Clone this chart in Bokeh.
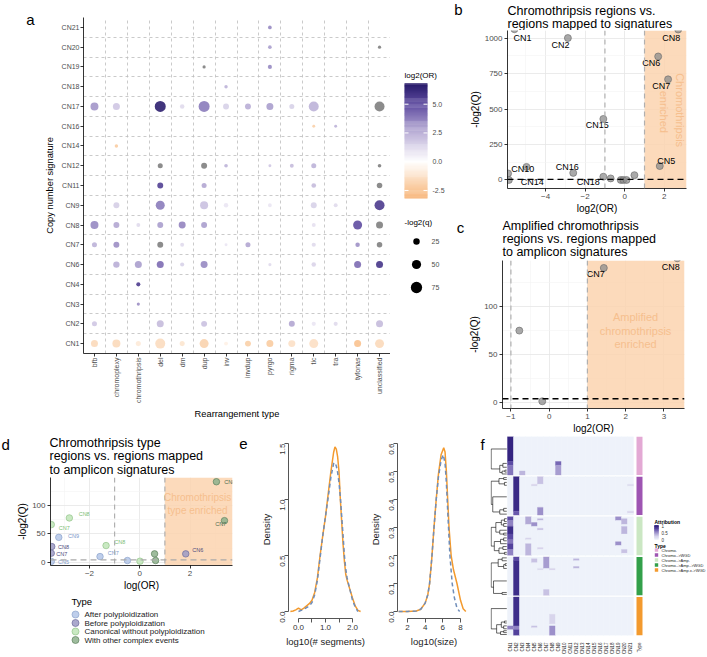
import numpy as np
from math import pi, log2, sqrt
from bokeh.plotting import figure
from bokeh.models import (Range1d, FixedTicker, Label, Span, BoxAnnotation,
                          LinearColorMapper, ColumnDataSource, NumeralTickFormatter)
from bokeh.layouts import row, column
from bokeh.core.properties import value
from bokeh.embed import file_html
from bokeh.resources import INLINE

FONT = "Liberation Sans"
NA = float("nan")

# ---------------- panel a : dot plot ----------------
rearr_types = ["bfb", "chromoplexy", "chromothripsis", "del", "dm", "dup", "inv", "invdup",
               "pyrgo", "rigma", "tic", "tra", "tyfonas", "unclassified"]
cn_sigs = ["CN1", "CN2", "CN3", "CN4", "CN6", "CN7", "CN8", "CN9", "CN11", "CN12", "CN14",
           "CN16", "CN17", "CN18", "CN19", "CN20", "CN21"]
a_sig = ["CN21", "CN20", "CN20", "CN19", "CN19", "CN18",
         "CN17", "CN17", "CN17", "CN17", "CN17", "CN17", "CN17", "CN17", "CN17", "CN17", "CN17",
         "CN16", "CN16", "CN14",
         "CN12", "CN12", "CN12", "CN12", "CN12", "CN12", "CN12",
         "CN11", "CN11", "CN11", "CN11",
         "CN9", "CN9", "CN9", "CN9", "CN9", "CN9", "CN9", "CN9",
         "CN8", "CN8", "CN8", "CN8", "CN8", "CN8", "CN8", "CN8", "CN8",
         "CN7", "CN7", "CN7", "CN7", "CN7", "CN7", "CN7", "CN7", "CN7",
         "CN6", "CN6", "CN6", "CN6", "CN6", "CN6", "CN6", "CN6", "CN6",
         "CN4", "CN3",
         "CN2", "CN2", "CN2", "CN2", "CN2", "CN2", "CN2",
         "CN1", "CN1", "CN1", "CN1", "CN1", "CN1", "CN1", "CN1", "CN1", "CN1", "CN1", "CN1", "CN1"]
a_type = ["pyrgo", "pyrgo", "unclassified", "dup", "pyrgo", "inv",
          "bfb", "chromoplexy", "del", "dm", "dup", "inv", "invdup", "pyrgo", "rigma", "tic", "unclassified",
          "tic", "tra", "chromoplexy",
          "del", "dup", "inv", "pyrgo", "rigma", "tic", "unclassified",
          "del", "dup", "tic", "unclassified",
          "chromoplexy", "del", "dup", "inv", "pyrgo", "tic", "tra", "unclassified",
          "bfb", "chromoplexy", "chromothripsis", "del", "dm", "dup", "tic", "tyfonas", "unclassified",
          "bfb", "chromoplexy", "del", "dm", "inv", "invdup", "tic", "tyfonas", "unclassified",
          "chromoplexy", "chromothripsis", "del", "dm", "dup", "pyrgo", "tic", "tyfonas", "unclassified",
          "chromothripsis", "chromothripsis",
          "bfb", "del", "dup", "rigma", "tic", "tra", "unclassified",
          "bfb", "chromoplexy", "chromothripsis", "del", "dm", "dup", "inv", "invdup", "pyrgo", "rigma",
          "tic", "tyfonas", "unclassified"]
a_log2or = [3.5, 3.0, NA, NA, 3.5, 2.5,
            3.2, 1.8, 6.6, 1.2, 3.8, 1.5, 2.6, 3.0, 1.5, 2.5, NA,
            -2.0, 2.5, -2.2,
            NA, NA, 2.5, 1.8, 2.2, 2.5, NA,
            5.4, 2.8, 2.2, NA,
            1.6, 3.8, 2.0, 0.8, 0.8, 1.5, 1.2, 5.6,
            3.5, 2.8, 1.2, 3.0, 3.6, 3.0, 1.0, 5.0, NA,
            2.5, 3.4, NA, 1.2, 0.8, 2.8, 1.2, 3.3, NA,
            2.6, 3.0, 4.2, 1.5, 3.5, 1.2, 1.4, 4.2, 5.8,
            5.6, 3.4,
            1.8, 2.2, 2.0, 2.8, 0.8, 1.2, 2.2,
            -1.6, -1.6, -0.9, -1.5, -1.1, -1.9, -0.6, -2.0, -2.2, -1.3, -1.4, -2.6, -1.6]
a_neglog2q = [8, 8, 6, 6, 10, 7,
              38, 29, 72, 12, 72, 21, 21, 29, 15, 59, 59,
              5, 5, 7,
              15, 21, 8, 5, 9, 15, 8,
              21, 15, 13, 18,
              21, 48, 38, 12, 9, 21, 9, 59,
              38, 21, 9, 21, 29, 21, 9, 48, 29,
              15, 21, 21, 9, 5, 15, 10, 12, 18,
              24, 29, 29, 10, 29, 6, 12, 29, 29,
              10, 6,
              15, 29, 21, 21, 10, 10, 29,
              29, 38, 15, 59, 15, 48, 9, 21, 29, 29, 48, 29, 48]
a_or_ticks = [-2.5, 0.0, 2.5, 5.0]
size_breaks = [25, 50, 75]

# ---------------- panel b ----------------
b_log2or = [-5.57, -2.87, 2.70, 1.69, 2.19, -1.08, 1.77, -4.96, -2.60, -5.85, -1.08, -0.71,
            -0.20, -0.07, 0.09, 0.49, -5.89]
b_neglog2q = [1062, 1000, 1060, 870, 709, 430, 98, 92, 50, 0, 23, 11, 0, 0, 0, 34, 46]
b_lab = ["CN1", "CN2", "CN8", "CN6", "CN7", "CN15", "CN5", "CN10", "CN16", "CN14", "CN18"]
b_lab_x = [-5.16, -3.24, 2.35, 1.34, 1.85, -1.39, 2.10, -5.15, -2.90, -4.67, -1.84]
b_lab_y = [1002, 950, 1002, 824, 664, 384, 137, 80, 92, -16, -16]

# ---------------- panel c ----------------
c_log2or = [1.43, 3.35, -0.78, -0.18]
c_neglog2q = [140, 150, 75, 1.7]
c_lab = ["CN7", "CN8"]
c_lab_x = [1.22, 3.18]
c_lab_y = [134, 141]

OR_CUT = 1.0
Q_CUT = -log2(0.05)

# ---------------- panel d ----------------
d_types = ["After polyploidization", "Before polyploidization",
           "Canonical without polyploidization", "With other complex events"]
d_type = ["With other complex events"] * 4 + ["Before polyploidization"] * 3 + \
         ["Canonical without polyploidization"] * 4 + ["After polyploidization"] * 4
d_logor = [3.05, 3.37, 0.59, 0.63, 1.83, -3.50, -3.52, -2.80, -3.52, -1.34, 0.01, -3.22, -1.58, -3.52, -0.49]
d_neglog2q = [142.5, 73.6, 14.8, 3.0, 14.8, 27.7, 16.0, 78.4, 66.6, 29.5, 1.8, 44.0, 10.0, 1.5, 3.0]
d_lab = ["CN8", "CN7", "", "", "CN6", "CN8", "CN7", "CN8", "CN7", "CN8", "", "CN9", "CN7", "CN5", ""]
d_lab_x = [3.36, 3.00, 0, 0, 2.09, -3.25, -3.32, -2.43, -3.22, -1.01, 0, -2.85, -1.27, -3.25, 0]
d_lab_y = [142.6, 68.0, 0, 0, 22.0, 26.5, 14.8, 85.5, 60.8, 36.6, 0, 47.2, 16.6, 0.0, 0]

# ---------------- panel e : densities ----------------
e1_x_orange = [-0.3, -0.2, -0.1, 0.0, 0.1, 0.2, 0.3, 0.4, 0.5, 0.6, 0.7, 0.8, 0.9, 1.0, 1.1, 1.2, 1.3,
               1.35, 1.4, 1.45, 1.5, 1.55, 1.6, 1.65, 1.7, 1.75, 1.8, 1.9, 2.0, 2.1, 2.2, 2.3]
e1_y_orange = [0.0, 0.005, 0.015, 0.03, 0.015, 0.03, 0.05, 0.07, 0.1, 0.17, 0.3, 0.5, 0.68, 0.85, 1.05,
               1.25, 1.42, 1.47, 1.45, 1.38, 1.25, 1.0, 0.8, 0.6, 0.45, 0.33, 0.28, 0.2, 0.12, 0.05, 0.01, 0.0]
e1_x_blue = [0.0, 0.1, 0.2, 0.3, 0.4, 0.5, 0.6, 0.7, 0.8, 0.9, 1.0, 1.1, 1.2, 1.3,
             1.35, 1.4, 1.45, 1.5, 1.55, 1.6, 1.65, 1.7, 1.75, 1.8, 1.9, 2.0, 2.1, 2.2]
e1_y_blue = [0.0, 0.01, 0.02, 0.035, 0.05, 0.08, 0.15, 0.28, 0.48, 0.68, 0.85, 1.02, 1.2, 1.32,
             1.33, 1.3, 1.24, 1.15, 1.02, 0.85, 0.68, 0.5, 0.38, 0.3, 0.2, 0.1, 0.04, 0.0]
e2_x_orange = [1.0, 2.0, 3.0, 3.5, 4.0, 4.3, 4.5, 4.75, 5.0, 5.25, 5.5, 5.8, 6.1, 6.25, 6.4, 6.55,
               6.7, 6.94, 7.2, 7.6, 8.0, 8.3, 8.6]
e2_y_orange = [0.0, 0.0, 0.002, 0.008, 0.03, 0.06, 0.1, 0.19, 0.3, 0.4, 0.49, 0.56, 0.585, 0.57, 0.5,
               0.4, 0.3, 0.2, 0.15, 0.1, 0.04, 0.01, 0.0]
e2_x_blue = [1.0, 2.0, 3.0, 3.5, 4.0, 4.3, 4.5, 4.75, 5.0, 5.25, 5.5, 5.8, 6.05, 6.25, 6.4, 6.55,
             6.8, 7.06, 7.3, 7.6, 7.9]
e2_y_blue = [0.0, 0.0, 0.002, 0.008, 0.03, 0.06, 0.1, 0.19, 0.3, 0.4, 0.48, 0.54, 0.56, 0.53, 0.46,
             0.36, 0.2, 0.1, 0.05, 0.012, 0.0]

# ---------------- panel f : heatmap ----------------
hm_cols = ["CN%d" % i for i in range(1, 22)]
hm_groups = ["Chromo.", "Chromo.->WGD", "Chromo.->Amp.", "Chromo.->Amp.->WGD", "Chromo.->Amp.\u00b1->WGD"]
hm_group_colors = ["#E3A9D4", "#9E55B2", "#CBE7C3", "#33A04A", "#F39A2E"]
hm_ticks = [0, 0.5, 1]
ROWS = 20
blk_group = [0, 0, 0, 0, 0, 0,
             1, 1, 1, 1, 1, 1, 1,
             2, 2, 2, 2, 2, 2, 2, 2, 2, 2, 2, 2, 2, 2, 2, 2, 2, 2, 2, 2,
             3, 3, 3, 3, 3, 3, 3, 3, 3,
             4, 4, 4, 4, 4, 4, 4]
blk_r0 = [0, 13, 15, 13, 15, 18,
          0, 18, 0, 16, 4, 4, 18,
          0, 2, 5, 9, 12, 14, 17, 0, 11, 14, 3, 1, 6, 16, 0, 13, 1, 5, 7, 17,
          0, 2, 1, 6, 0, 17, 6, 1, 5,
          0, 15, 17, 15, 15, 9, 15]
blk_r1 = [13, 15, 20, 15, 20, 20,
          18, 20, 4, 20, 5, 5, 19,
          2, 5, 9, 12, 14, 17, 20, 4, 12, 20, 5, 2, 7, 17, 2, 15, 4, 7, 9, 19,
          2, 20, 3, 7, 6, 20, 7, 2, 6,
          15, 17, 20, 17, 16, 14, 20]
blk_col = ["CN1", "CN1", "CN1", "CN9", "CN9", "CN3",
           "CN2", "CN2", "CN6", "CN6", "CN5", "CN21", "CN21",
           "CN1", "CN1", "CN1", "CN1", "CN1", "CN1", "CN1", "CN4", "CN4", "CN4", "CN5", "CN6", "CN6", "CN6",
           "CN19", "CN19", "CN20", "CN20", "CN20", "CN20",
           "CN2", "CN2", "CN5", "CN6", "CN7", "CN7", "CN8", "CN12", "CN12",
           "CN2", "CN2", "CN2", "CN1", "CN5", "CN8", "CN8"]
blk_val = [0.95, 0.75, 0.6, 0.65, 0.45, 0.35,
           0.92, 0.7, 0.3, 0.5, 0.2, 0.15, 0.2,
           0.75, 0.55, 0.9, 0.75, 0.6, 0.8, 0.55, 0.4, 0.2, 0.35, 0.5, 0.35, 0.3, 0.2,
           0.5, 0.5, 0.35, 0.35, 0.35, 0.3,
           0.75, 0.9, 0.3, 0.15, 0.45, 0.3, 0.2, 0.35, 0.35,
           0.9, 0.55, 0.8, 0.55, 0.3, 0.2, 0.5]
# dendrograms: [merge height, left, right]; an int is a cluster of that many rows
hm_trees = [
    [1.0, 13, [0.45, [0.25, 2, 2], [0.3, [0.12, 1, 1], 1]]],
    [1.0, [0.5, [0.2, 1, 1], [0.15, 2, 1]], [0.9, 11, [0.45, [0.2, 1, 2], 1]]],
    [1.0, [0.7, [0.35, [0.15, 2, 1], [0.2, 1, 2]], [0.45, 2, [0.2, 1, 1]]],
     [0.8, [0.4, [0.2, 2, 1], 2], [0.5, [0.25, 1, 2], [0.15, 1, 1]]]],
    [1.0, [0.55, [0.3, 1, 2], [0.2, [0.1, 1, 1], 2]], [0.85, 11, [0.3, 1, 1]]],
    [1.0, 12, [0.65, [0.35, [0.15, 1, 1], [0.2, 2, 1]], [0.4, [0.2, 1, 1], 1]]],
]


# ======================= helpers =======================
def ramp(stops, n=256):
    pos = np.array([s[0] for s in stops], float)
    rgb = np.array([[int(h[i:i + 2], 16) for i in (1, 3, 5)] for _, h in stops], float)
    t = np.linspace(pos[0], pos[-1], n)
    cols = []
    for ti in t:
        r, g, b = (np.interp(ti, pos, rgb[:, k]) for k in range(3))
        cols.append("#%02x%02x%02x" % (int(round(r)), int(round(g)), int(round(b))))
    return cols


def new_fig(**kw):
    try:
        return figure(frame_align=False, **kw)
    except Exception:
        return figure(**kw)


def make_fig(w, h, l, r, t, b, xr, yr, **kw):
    p = new_fig(width=w, height=h, x_range=xr, y_range=yr, title=None,
                output_backend="svg", toolbar_location=None,
                min_border_left=l, min_border_right=r, min_border_top=t, min_border_bottom=b, **kw)
    p.outline_line_color = None
    p.background_fill_color = "white"
    p.border_fill_color = "white"
    return p


def blank_fig(w, h):
    p = new_fig(width=w, height=h, x_range=Range1d(0, w), y_range=Range1d(h, 0), title=None,
                output_backend="svg", toolbar_location=None, x_axis_location=None,
                y_axis_location=None, min_border=0, min_border_left=0, min_border_right=0,
                min_border_top=0, min_border_bottom=0)
    p.outline_line_color = None
    p.grid.visible = False
    p.background_fill_color = "white"
    p.border_fill_color = "white"
    return p


def ptext(p, x, y, text, size, color="black", align="left", baseline="middle", style="normal"):
    p.text(x=[x], y=[y], text=[text], text_font=value(FONT), text_font_size=value("%spx" % size),
           text_color=color, text_align=align, text_baseline=baseline, text_font_style=style)


def gg_axes(p, tick="8px", lab="10px"):
    for ax in p.axis:
        ax.axis_line_color = "black"
        ax.axis_line_width = 0.8
        ax.major_tick_line_color = "black"
        ax.major_tick_line_width = 0.8
        ax.major_tick_out = 3
        ax.major_tick_in = 0
        ax.minor_tick_line_color = None
        ax.major_label_text_font = FONT
        ax.major_label_text_font_size = tick
        ax.major_label_text_color = "#4D4D4D"
        ax.major_label_standoff = 1
        ax.axis_label_text_font = FONT
        ax.axis_label_text_font_size = lab
        ax.axis_label_text_font_style = "normal"
        ax.axis_label_text_color = "black"
        ax.axis_label_standoff = 1


def set_ticks(p, xt, xm, yt, ym):
    tx = FixedTicker(ticks=xt, minor_ticks=xm)
    ty = FixedTicker(ticks=yt, minor_ticks=ym)
    p.xaxis.ticker = tx
    p.xgrid.ticker = tx
    p.yaxis.ticker = ty
    p.ygrid.ticker = ty
    p.grid.grid_line_color = "#E6E6E6"
    p.grid.grid_line_width = 0.8
    p.grid.minor_grid_line_color = "#F3F3F3"
    p.grid.minor_grid_line_width = 0.6


def thresholds(p, hcolor):
    p.add_layout(BoxAnnotation(left=OR_CUT, fill_color=SHADE, fill_alpha=0.85, line_color=None,
                               level="underlay"))
    for xv in (-OR_CUT, OR_CUT):
        p.add_layout(Span(location=xv, dimension="height", line_color="#B0B0B0", line_dash="5 4",
                          line_width=1.2))
    p.add_layout(Span(location=Q_CUT, dimension="width", line_color=hcolor, line_dash="6 4",
                      line_width=1.4 if hcolor == "black" else 1.2))


def dot_size(q):
    return 1.3 * sqrt(q)


def gradient_bar(p, mapper, lo, hi, x0, x1, ytop, ybot, n=120):
    vals = np.linspace(lo, hi, n + 1)
    ys = ybot - (vals - lo) / (hi - lo) * (ybot - ytop)
    src = ColumnDataSource(dict(l=[x0] * n, r=[x1] * n, t=list(ys[1:] - 0.3), b=list(ys[:-1]),
                                v=list((vals[1:] + vals[:-1]) / 2)))
    p.quad(left="l", right="r", top="t", bottom="b", source=src,
           fill_color={"field": "v", "transform": mapper}, line_color=None)
    return lambda v: ybot - (v - lo) / (hi - lo) * (ybot - ytop)


SHADE = "#FCD3AF"
ENR_TEXT = "#F6BF8E"
TITLE_PX = 12.5

# ======================= panel a =======================
A_LO, A_HI = -3.2, 6.8
a_mapper = LinearColorMapper(
    palette=ramp([(-3.2, "#F6B172"), (-2.5, "#F9C595"), (0.0, "#FFFFFF"), (2.5, "#BDB2D8"),
                  (5.0, "#5F4CA1"), (6.8, "#271A69")]),
    low=A_LO, high=A_HI, nan_color="#7F7F7F")

pa_strip = blank_fig(38, 436)
ptext(pa_strip, 30, 19, "a", 15, align="center")

pa = make_fig(352, 436, 45, 0, 17, 83, Range1d(-0.5, len(rearr_types) - 0.5),
              Range1d(-0.5, len(cn_sigs) - 0.5))
a_src = ColumnDataSource(dict(
    xi=[rearr_types.index(t) for t in a_type],
    yi=[cn_sigs.index(s) for s in a_sig],
    lor=np.array(a_log2or, dtype=float),
    sz=[dot_size(q) for q in a_neglog2q]))
pa.scatter("xi", "yi", size="sz", source=a_src, fill_color={"field": "lor", "transform": a_mapper},
           fill_alpha=0.9, line_color=None)
pa.xgrid.ticker = FixedTicker(ticks=[i - 0.5 for i in range(len(rearr_types) + 1)])
pa.ygrid.ticker = FixedTicker(ticks=[i - 0.5 for i in range(len(cn_sigs) + 1)])
pa.grid.grid_line_color = "#BDBDBD"
pa.grid.grid_line_dash = "3 3"
pa.grid.grid_line_width = 0.8
gg_axes(pa, tick="7px", lab="9.3px")
pa.xaxis.ticker = FixedTicker(ticks=list(range(len(rearr_types))))
pa.xaxis.major_label_overrides = {i: t for i, t in enumerate(rearr_types)}
pa.xaxis.major_label_orientation = pi / 2
pa.yaxis.ticker = FixedTicker(ticks=list(range(len(cn_sigs))))
pa.yaxis.major_label_overrides = {i: s for i, s in enumerate(cn_sigs)}
pa.xaxis.axis_label = "Rearrangement type"
pa.yaxis.axis_label = "Copy number signature"
pa.xaxis.axis_label_standoff = 3
pa.yaxis.axis_label_standoff = 4

# legend column for panel a
pa_leg = blank_fig(55, 436)
ptext(pa_leg, 14, 75, "log2(OR)", 8)
ypos = gradient_bar(pa_leg, a_mapper, A_LO, A_HI, 14, 37, 83, 198)
tick_y = [ypos(v) for v in a_or_ticks]
pa_leg.segment(x0=[14] * 4, y0=tick_y, x1=[18] * 4, y1=tick_y, line_color="white", line_width=1)
pa_leg.segment(x0=[33] * 4, y0=tick_y, x1=[37] * 4, y1=tick_y, line_color="white", line_width=1)
pa_leg.text(x=[42] * 4, y=tick_y, text=["%.1f" % v for v in a_or_ticks], text_font=value(FONT),
            text_font_size=value("7px"), text_color="#4D4D4D", text_align="left",
            text_baseline="middle")
ptext(pa_leg, 14, 222, "-log2(q)", 8)
sl_y = [241 + 23 * k for k in range(len(size_breaks))]
pa_leg.scatter(x=[26] * len(size_breaks), y=sl_y, size=[dot_size(q) for q in size_breaks],
               fill_color="black", line_color=None)
pa_leg.text(x=[41] * len(size_breaks), y=sl_y, text=[str(q) for q in size_breaks],
            text_font=value(FONT), text_font_size=value("7px"), text_color="#4D4D4D",
            text_align="left", text_baseline="middle")

# ======================= panel b =======================
pb_head = blank_fig(262, 30)
ptext(pb_head, 13, 9, "b", 15, align="center")
ptext(pb_head, 62, 10.5, "Chromothripsis regions vs.", TITLE_PX)
ptext(pb_head, 62, 23.5, "regions mapped to signatures", TITLE_PX)

pb = make_fig(262, 186, 62, 21, 0, 26, Range1d(-5.92, 3.12), Range1d(-60, 1053))
set_ticks(pb, [-4, -2, 0, 2], [-5, -3, -1, 1, 3], [0, 250, 500, 750, 1000], [125, 375, 625, 875])
thresholds(pb, "black")
pb.scatter(b_log2or, b_neglog2q, size=7, fill_color="#8C8C8C", fill_alpha=0.75,
           line_color="#666666", line_width=0.6)
pb.text(b_lab_x, b_lab_y, text=b_lab, text_font=value(FONT), text_font_size=value("9px"),
        text_align="center", text_baseline="middle", text_color="black")
pb.add_layout(Label(x=2.77, y=492, text="Chromothripsis", angle=-pi / 2, text_align="center",
                    text_baseline="middle", text_font=FONT, text_font_size="11px",
                    text_color=ENR_TEXT))
pb.add_layout(Label(x=1.96, y=480, text="enriched", angle=-pi / 2, text_align="center",
                    text_baseline="middle", text_font=FONT, text_font_size="11px",
                    text_color=ENR_TEXT))
gg_axes(pb)
pb.xaxis.axis_label = "log2(OR)"
pb.yaxis.axis_label = "-log2(Q)"

# ======================= panel c =======================
pc_head = blank_fig(262, 44)
ptext(pc_head, 15, 11, "c", 15, align="center")
ptext(pc_head, 57, 9, "Amplified chromothripsis", TITLE_PX)
ptext(pc_head, 57, 22, "regions vs. regions mapped", TITLE_PX)
ptext(pc_head, 57, 35.5, "to amplicon signatures", TITLE_PX)

pc = make_fig(262, 176, 57, 23, 0, 28, Range1d(-1.22, 3.54), Range1d(-5.8, 147.7))
set_ticks(pc, [-1, 0, 1, 2, 3], [-0.5, 0.5, 1.5, 2.5, 3.5], [0, 50, 100], [25, 75, 125])
thresholds(pc, "black")
pc.scatter(c_log2or, c_neglog2q, size=7, fill_color="#8C8C8C", fill_alpha=0.75,
           line_color="#666666", line_width=0.6)
pc.text(c_lab_x, c_lab_y, text=c_lab, text_font=value(FONT), text_font_size=value("9px"),
        text_align="center", text_baseline="middle", text_color="black")
pc.add_layout(Label(x=2.26, y=75, text="Amplified\nchromothripsis\nenriched", text_align="center",
                    text_baseline="middle", text_font=FONT, text_font_size="11px",
                    text_color=ENR_TEXT, text_line_height=1.15))
gg_axes(pc)
pc.xaxis.axis_label = "log2(OR)"
pc.yaxis.axis_label = "-log2(Q)"

# ======================= panel d =======================
pd_head = blank_fig(236, 41)
ptext(pd_head, 1, 8, "d", 15)
ptext(pd_head, 49, 6.5, "Chromothripsis type", TITLE_PX)
ptext(pd_head, 49, 19.5, "regions vs. regions mapped", TITLE_PX)
ptext(pd_head, 49, 33, "to amplicon signatures", TITLE_PX)

pd_ = make_fig(236, 118, 50, 4, 0, 30, Range1d(-3.55, 3.69), Range1d(-5.8, 150))
set_ticks(pd_, [-2, 0, 2], [-3, -1, 1, 3], [0, 50, 100], [25, 75, 125])
thresholds(pd_, "#AAAAAA")
d_fill = {"After polyploidization": "#B3C6E8", "Before polyploidization": "#9C9AC4",
          "Canonical without polyploidization": "#BFE5B7", "With other complex events": "#8DB08C"}
d_line = {"After polyploidization": "#8DA3CC", "Before polyploidization": "#6F6D9C",
          "Canonical without polyploidization": "#93C48B", "With other complex events": "#5F825F"}
d_text = {"After polyploidization": "#7C97C9", "Before polyploidization": "#4F4C7C",
          "Canonical without polyploidization": "#7DBE76", "With other complex events": "#4E6E4E"}
for tname in d_types:
    idx = [i for i, t in enumerate(d_type) if t == tname]
    pd_.scatter([d_logor[i] for i in idx], [d_neglog2q[i] for i in idx], size=6.5,
                fill_color=d_fill[tname], fill_alpha=0.85, line_color=d_line[tname],
                line_width=0.7)
    li = [i for i in idx if d_lab[i]]
    pd_.text([d_lab_x[i] for i in li], [d_lab_y[i] for i in li], text=[d_lab[i] for i in li],
             text_font=value(FONT), text_font_size=value("5.5px"), text_align="left",
             text_baseline="middle", text_color=d_text[tname])
pd_.add_layout(Label(x=2.3, y=115, text="Chromothripsis", text_align="center",
                     text_baseline="middle", text_font=FONT, text_font_size="10px",
                     text_color=ENR_TEXT))
pd_.add_layout(Label(x=2.3, y=91, text="type enriched", text_align="center",
                     text_baseline="middle", text_font=FONT, text_font_size="10px",
                     text_color=ENR_TEXT))
gg_axes(pd_)
pd_.xaxis.axis_label = "log(OR)"
pd_.yaxis.axis_label = "-log2(Q)"

pd_leg = blank_fig(236, 62)
ptext(pd_leg, 71, 5.5, "Type", 9.5)
leg_y = [19 + 8.5 * k for k in range(len(d_types))]
pd_leg.scatter(x=[75] * len(d_types), y=leg_y, size=7,
               fill_color=[d_fill[t] for t in d_types], line_color=[d_line[t] for t in d_types],
               line_width=0.7, fill_alpha=0.85)
pd_leg.text(x=[84] * len(d_types), y=leg_y, text=d_types, text_font=value(FONT),
            text_font_size=value("8px"), text_color="#222222", text_align="left",
            text_baseline="middle")


# ======================= panel e =======================
def base_axes(p):
    for ax in p.axis:
        ax.axis_line_color = "#555555"
        ax.major_tick_line_color = "#555555"
        ax.minor_tick_line_color = "#555555"
        ax.major_tick_out = 4
        ax.major_tick_in = 0
        ax.minor_tick_out = 4
        ax.minor_tick_in = 0
        ax.major_label_text_font = FONT
        ax.major_label_text_font_size = "8px"
        ax.major_label_text_color = "#333333"
        ax.major_label_standoff = 2
        ax.axis_label_text_font = FONT
        ax.axis_label_text_font_size = "9.5px"
        ax.axis_label_text_font_style = "normal"
        ax.axis_label_text_color = "#222222"
        ax.axis_label_standoff = 3
    p.grid.visible = False
    p.yaxis.major_label_orientation = pi / 2


pe_strip = blank_fig(15, 221)
ptext(pe_strip, 7, 7, "e", 15, align="center")

pe1 = make_fig(115, 221, 37, 4, 4, 39, Range1d(-0.37, 2.37), Range1d(-0.0625, 1.527))
pe1.line(e1_x_orange, e1_y_orange, line_color="#F39A2E", line_width=1.5)
pe1.line(e1_x_blue, e1_y_blue, line_color="#6F8DB9", line_width=1.5, line_dash="4 3")
base_axes(pe1)
pe1.xaxis.ticker = FixedTicker(ticks=[0, 1, 2], minor_ticks=[0.5, 1.5])
pe1.xaxis.formatter = NumeralTickFormatter(format="0.0")
pe1.xaxis.bounds = (0, 2)
pe1.yaxis.ticker = FixedTicker(ticks=[0, 0.5, 1.0, 1.5], minor_ticks=[])
pe1.yaxis.formatter = NumeralTickFormatter(format="0.0")
pe1.yaxis.bounds = (0, 1.5)
pe1.xaxis.axis_label = "log10(# segments)"
pe1.yaxis.axis_label = "Density"

pe2 = make_fig(106, 221, 31, 2, 4, 39, Range1d(0.87, 9.13), Range1d(-0.025, 0.611))
pe2.line(e2_x_orange, e2_y_orange, line_color="#F39A2E", line_width=1.5)
pe2.line(e2_x_blue, e2_y_blue, line_color="#6F8DB9", line_width=1.5, line_dash="4 3")
base_axes(pe2)
pe2.xaxis.ticker = FixedTicker(ticks=[2, 4, 6, 8], minor_ticks=[])
pe2.xaxis.bounds = (2, 8)
pe2.yaxis.ticker = FixedTicker(ticks=[0, 0.1, 0.2, 0.3, 0.4, 0.5, 0.6], minor_ticks=[])
pe2.yaxis.formatter = NumeralTickFormatter(format="0.0")
pe2.yaxis.bounds = (0, 0.6)
pe2.xaxis.axis_label = "log10(size)"
pe2.yaxis.axis_label = "Density"

# ======================= panel f =======================
pf_strip = blank_fig(18, 221)
ptext(pf_strip, 10, 8, "f", 15, align="center")

GAP = 0.875
n_cols = len(hm_cols)
x_type = n_cols + 0.5
pf = make_fig(155, 221, 0, 0, 0, 14, Range1d(-2.833, n_cols + 2.0),
              Range1d(len(hm_groups) * ROWS + (len(hm_groups) - 1) * GAP, 0),
              y_axis_location=None)
M = np.zeros((len(hm_groups), ROWS, n_cols))
for g, r0, r1, c, v in zip(blk_group, blk_r0, blk_r1, blk_col, blk_val):
    M[g, r0:r1, hm_cols.index(c)] = v
ql, qr, qt, qb, qv = [], [], [], [], []
for g in range(len(hm_groups)):
    base = g * (ROWS + GAP)
    for ci in range(n_cols):
        colv = M[g, :, ci]
        r = 0
        while r < ROWS:
            s = r
            while r + 1 < ROWS and colv[r + 1] == colv[s]:
                r += 1
            ql.append(ci); qr.append(ci + 1); qt.append(base + s); qb.append(base + r + 1)
            qv.append(colv[s])
            r += 1
f_mapper = LinearColorMapper(palette=ramp([(0.0, "#EEF2FA"), (0.25, "#D2CEE9"), (0.5, "#9C91CA"),
                                           (0.75, "#5D4CA5"), (1.0, "#2A1B78")]), low=0, high=1)
fmap = {"field": "v", "transform": f_mapper}
pf.quad(left="l", right="r", top="t", bottom="b",
        source=ColumnDataSource(dict(l=ql, r=qr, t=qt, b=qb, v=qv)),
        fill_color=fmap, line_color=fmap, line_width=0.4)

dx0, dy0, dx1, dy1 = [], [], [], []


def hx(h):
    return -0.12 - h * 2.6


def dendro(node, start):
    if isinstance(node, int):
        return start + node / 2.0, 0.0, start + node
    h, a, b = node
    ya, ha, s = dendro(a, start)
    yb, hb, s = dendro(b, s)
    dx0.extend([hx(h), hx(h), hx(h)]); dy0.extend([ya, ya, yb])
    dx1.extend([hx(h), hx(ha), hx(hb)]); dy1.extend([yb, ya, yb])
    return (ya + yb) / 2.0, h, s


for g, tree in enumerate(hm_trees):
    dendro(tree, g * (ROWS + GAP))
pf.segment(dx0, dy0, dx1, dy1, line_color="black", line_width=0.6)

pf.quad(left=[x_type] * len(hm_groups), right=[x_type + 1] * len(hm_groups),
        top=[g * (ROWS + GAP) for g in range(len(hm_groups))],
        bottom=[g * (ROWS + GAP) + ROWS for g in range(len(hm_groups))],
        fill_color=hm_group_colors, line_color=None)
pf.grid.visible = False
pf.xaxis.ticker = FixedTicker(ticks=[i + 0.5 for i in range(n_cols)] + [x_type + 0.5])
pf.xaxis.major_label_overrides = dict([(i + 0.5, c) for i, c in enumerate(hm_cols)] +
                                      [(x_type + 0.5, "Type")])
pf.xaxis.major_label_orientation = pi / 2
pf.xaxis.major_label_text_font = FONT
pf.xaxis.major_label_text_font_size = "4.5px"
pf.xaxis.major_label_text_color = "#222222"
pf.xaxis.major_label_standoff = 1
pf.xaxis.axis_line_color = None
pf.xaxis.major_tick_line_color = None
pf.xaxis.minor_tick_line_color = None

pf_leg = blank_fig(62, 221)
ptext(pf_leg, 9, 85.5, "Attribution", 5, style="bold")
fpos = gradient_bar(pf_leg, f_mapper, 0, 1, 9, 13, 89, 103)
pf_leg.text(x=[16] * len(hm_ticks), y=[fpos(v) for v in hm_ticks], text=["%g" % v for v in hm_ticks],
            text_font=value(FONT), text_font_size=value("4.5px"), text_color="#333333",
            text_align="left", text_baseline="middle")
ptext(pf_leg, 9, 109, "Type", 5, style="bold")
fl_y = [113.5 + 5 * k for k in range(len(hm_groups))]
pf_leg.quad(left=[9.3] * len(hm_groups), right=[12.7] * len(hm_groups),
            top=[y - 1.7 for y in fl_y], bottom=[y + 1.7 for y in fl_y],
            fill_color=hm_group_colors, line_color=None)
pf_leg.text(x=[16] * len(hm_groups), y=fl_y, text=hm_groups, text_font=value(FONT),
            text_font_size=value("4px"), text_color="#222222", text_align="left",
            text_baseline="middle")

top = row(pa_strip, pa, pa_leg, column(pb_head, pb, pc_head, pc))
bottom = row(column(pd_head, pd_, pd_leg), pe_strip, pe1, pe2, pf_strip, pf, pf_leg)
layout = column(top, bottom)
open("out.html", "w").write(file_html(layout, INLINE))
